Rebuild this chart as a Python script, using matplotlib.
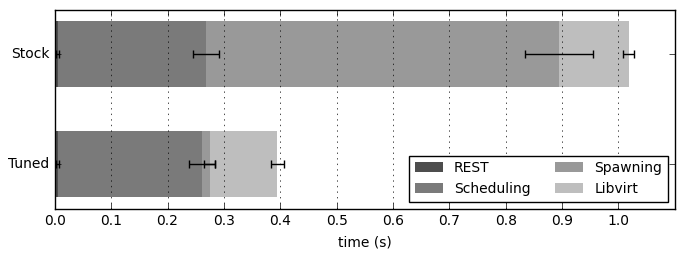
import matplotlib
matplotlib.use("Agg")
import matplotlib.pyplot as plt
import numpy as np

# -----------------------------
# Data (seconds)
# -----------------------------
configs = ["Tuned", "Stock"]
phases = ["REST", "Scheduling", "Spawning", "Libvirt"]
colors = ["#4d4d4d", "#7a7a7a", "#999999", "#bebebe"]

rest = [0.005, 0.005]
scheduling = [0.256, 0.263]
spawning = [0.014, 0.627]
libvirt = [0.120, 0.123]

rest_err = [0.002, 0.002]
scheduling_err = [0.023, 0.023]
spawning_err = [0.010, 0.060]
libvirt_err = [0.011, 0.009]

durations = [rest, scheduling, spawning, libvirt]
errors = [rest_err, scheduling_err, spawning_err, libvirt_err]

# -----------------------------
# Plot
# -----------------------------
plt.style.use("classic")
plt.rcParams["font.family"] = ["DejaVu Sans"]
plt.rcParams["font.size"] = 10

fig = plt.figure(figsize=(6.85, 2.6), dpi=100, facecolor="white")
ax = fig.add_axes([0.080, 0.198, 0.905, 0.765])

y = np.arange(len(configs))
left = np.zeros(len(configs))

for name, vals, errs, col in zip(phases, durations, errors, colors):
    ax.barh(y, vals, height=0.6, left=left, align="center", color=col,
            edgecolor="none", label=name, xerr=errs,
            error_kw=dict(ecolor="black", capsize=3, elinewidth=1, capthick=1))
    left = left + np.array(vals)

ax.set_yticks(y)
ax.set_yticklabels(configs)
ax.set_ylim(-0.4, 1.4)
ax.set_xlim(0, 1.1)
ax.set_xticks(np.arange(0, 1.01, 0.1))
ax.tick_params(labelsize=10)
ax.set_xlabel("time (s)", fontsize=10)
ax.xaxis.grid(True, linestyle=":", color="black")
ax.yaxis.grid(False)
ax.set_axisbelow(False)

ax.legend(loc="lower right", ncol=2, fontsize=10, frameon=True,
          handlelength=2, borderaxespad=0.5, columnspacing=1.8)

fig.savefig("out.png", dpi=100, facecolor="white")
